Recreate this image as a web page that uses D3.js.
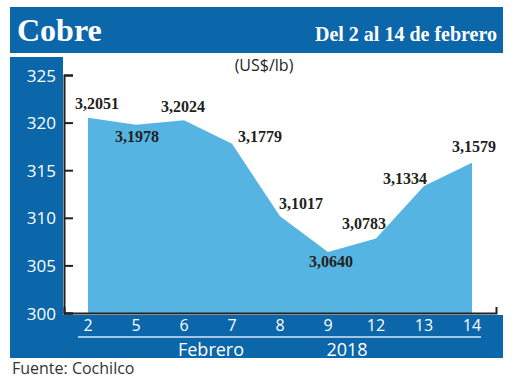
<!DOCTYPE html>
<html>
<head>
<meta charset="utf-8">
<script src="https://cdn.jsdelivr.net/npm/d3@7"></script>
<style>
  body { margin: 0; background: #fff; }
  svg text { font-family: "Open Sans", sans-serif; }
</style>
</head>
<body>
<svg width="520" height="390"></svg>
<script>
// data
let days = ["2", "5", "6", "7", "8", "9", "12", "13", "14"];
let prices = [320.51, 319.78, 320.24, 317.79, 310.17, 306.40, 307.83, 313.34, 315.79];
let priceLabels = ["3,2051", "3,1978", "3,2024", "3,1779", "3,1017", "3,0640", "3,0783", "3,1334", "3,1579"];
let yTicks = [300, 305, 310, 315, 320, 325];

// where each value label sits relative to its point
let labelNudge = [[9, -9], [1, 17], [-1, -8], [28, -2], [21, -7], [3, 15], [-12, -9], [-19, -2], [2, -11]];

let darkBlue = "#0b66aa";
let lightBlue = "#56b4e3";
let ink = "#231f20";

let svg = d3.select("svg");

let x = d3.scaleBand().domain(days).range([64, 496]);
let y = d3.scaleLinear().domain([300, 325]).range([313, 75]);
let cx = function (d) { return x(d) + x.bandwidth() / 2; };

// header
svg.append("rect").attr("x", 10).attr("y", 7).attr("width", 493).attr("height", 46).attr("fill", darkBlue);
svg.append("text").attr("x", 17).attr("y", 41)
    .style("font-family", "'Liberation Serif', serif").style("font-weight", "bold").style("font-size", "32px")
    .attr("fill", "#fff").text("Cobre");
svg.append("text").attr("x", 497).attr("y", 41).attr("text-anchor", "end")
    .style("font-family", "'Liberation Serif', serif").style("font-weight", "bold").style("font-size", "20px")
    .attr("fill", "#fff").text("Del 2 al 14 de febrero");

// panels around the plot
svg.append("rect").attr("x", 10).attr("y", 57).attr("width", 53).attr("height", 301).attr("fill", darkBlue);
svg.append("rect").attr("x", 10).attr("y", 315).attr("width", 493).attr("height", 43).attr("fill", darkBlue);

// area
let area = d3.area()
    .x(function (d, i) { return cx(days[i]); })
    .y0(y(300))
    .y1(function (d) { return y(d); });

svg.append("path").datum(prices).attr("d", area).attr("fill", lightBlue);

// axes
let yAxis = svg.append("g").attr("transform", "translate(64,0)")
    .call(d3.axisLeft(y).tickValues(yTicks).tickSizeInner(-9).tickSizeOuter(-9).tickPadding(8));
yAxis.selectAll("line, path").attr("stroke", ink).attr("stroke-width", 2);
yAxis.selectAll("text").attr("fill", "#fff").style("font-size", "17px").attr("dy", "0.36em");

let xAxis = svg.append("g").attr("transform", "translate(0,313)")
    .call(d3.axisBottom(x).tickSizeInner(0).tickSizeOuter(-6).tickPadding(7));
xAxis.selectAll("path").attr("stroke", ink).attr("stroke-width", 2);
xAxis.selectAll("text").attr("fill", "#fff").style("font-size", "16px");

svg.append("line").attr("x1", 78).attr("x2", 481).attr("y1", 337).attr("y2", 337)
    .attr("stroke", "#d6e6f3").attr("stroke-width", 1.5);
svg.append("text").attr("x", (cx("6") + cx("7")) / 2 + 3).attr("y", 356).attr("text-anchor", "middle")
    .attr("fill", "#fff").style("font-size", "18px").text("Febrero");
svg.append("text").attr("x", (cx("9") + cx("12")) / 2 - 5).attr("y", 356).attr("text-anchor", "middle")
    .attr("fill", "#fff").style("font-size", "18px").text("2018");

// value labels
svg.selectAll(".val")
    .data(prices)
    .join("text")
    .attr("class", "val")
    .attr("x", function (d, i) { return cx(days[i]) + labelNudge[i][0]; })
    .attr("y", function (d, i) { return y(d) + labelNudge[i][1]; })
    .attr("text-anchor", "middle")
    .style("font-family", "'Liberation Serif', serif").style("font-weight", "bold").style("font-size", "16px")
    .attr("fill", ink)
    .text(function (d, i) { return priceLabels[i]; });

// unit and source
svg.append("text").attr("x", 264).attr("y", 71).attr("text-anchor", "middle")
    .attr("fill", ink).style("font-size", "16px").text("(US$/lb)");
svg.append("text").attr("x", 12).attr("y", 374)
    .attr("fill", "#333").style("font-size", "16px").text("Fuente: Cochilco");
</script>
</body>
</html>
